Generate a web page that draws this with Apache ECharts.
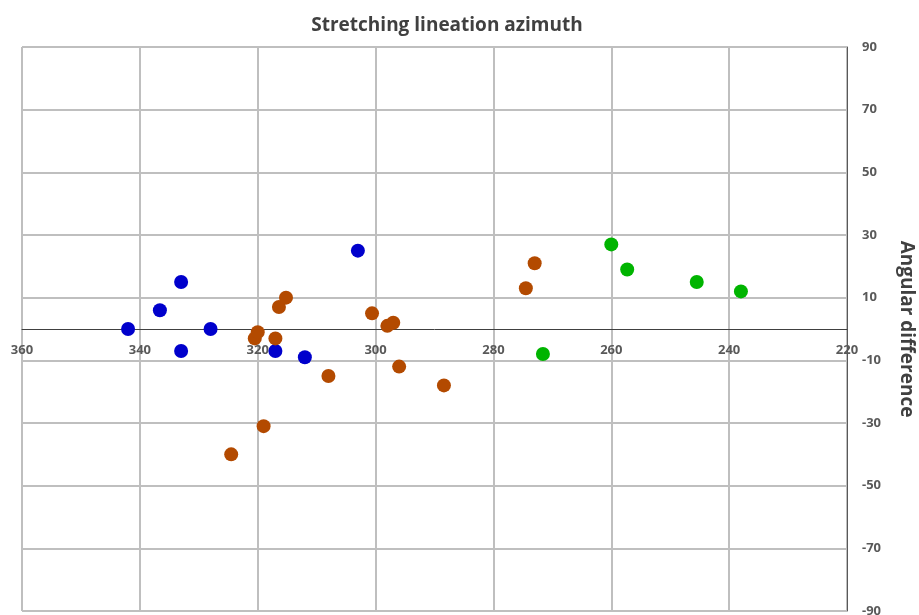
<!DOCTYPE html>
<html><head><meta charset="utf-8">
<script src="https://cdn.jsdelivr.net/npm/echarts@6/dist/echarts.min.js"></script>
<style>html,body{margin:0;padding:0;background:#fff}#c{width:919px;height:615px}</style>
</head><body><div id="c"></div>
<script>
const xTicks = [220, 240, 260, 280, 300, 320, 340, 360];
const yTicks = [-90, -70, -50, -30, -10, 10, 30, 50, 70, 90];
const blueX = [342, 336.6, 333, 333, 328, 317, 312, 303];
const blueY = [0, 6, 15, -7, 0, -7, -9, 25];
const orangeX = [324.5, 319, 320.5, 320, 317, 316.4, 315.2, 308, 300.6, 298, 297, 296, 288.4, 274.5, 273];
const orangeY = [-40, -31, -3, -1, -3, 7, 10, -15, 5, 1, 2, -12, -18, 13, 21];
const greenX = [271.6, 260, 257.3, 245.5, 238];
const greenY = [-8, 27, 19, 15, 12];

const pairs = (xs, ys) => xs.map((x, i) => [x, ys[i]]);
const font = '"Open Sans", "Noto Sans", sans-serif';
const gridTop = 47, gridBottom = 4, H = 615;
const plotH = H - gridTop - gridBottom;
const zeroOffset = -plotH * (0 - (-90)) / 180;
const chart = echarts.init(document.getElementById('c'));
chart.setOption({
  animation: false,
  title: { text: 'Stretching lineation azimuth', left: 442, textAlign: 'center', top: 11,
    textStyle: { fontFamily: font, fontSize: 19, fontWeight: 'bold', color: '#404040' } },
  grid: { left: 22, right: 72, top: gridTop, bottom: gridBottom, containLabel: false, outerBoundsMode: 'none' },
  xAxis: {
    type: 'value', min: 220, max: 360, interval: 20, inverse: true,
    position: 'bottom', offset: zeroOffset,
    axisLine: { show: true, onZero: false, lineStyle: { color: '#404040', width: 1 } },
    axisTick: { show: false },
    axisLabel: { fontFamily: font, fontSize: 13, fontWeight: 'bold', color: '#595959', margin: 15 },
    splitLine: { show: true, lineStyle: { color: '#bfbfbf', width: 2 } }
  },
  yAxis: {
    type: 'value', position: 'right', min: -90, max: 90, interval: 20,
    name: 'Angular difference', nameLocation: 'middle', nameRotate: -90, nameGap: 50,
    nameTextStyle: { fontFamily: font, fontSize: 19, fontWeight: 'bold', color: '#404040' },
    axisLine: { show: true, onZero: false, lineStyle: { color: '#595959', width: 1 } },
    axisTick: { show: false },
    axisLabel: { fontFamily: font, fontSize: 13, fontWeight: 'bold', color: '#595959', margin: 15 },
    splitLine: { show: true, lineStyle: { color: '#bfbfbf', width: 2 } }
  },
  series: [
    { type: 'scatter', data: pairs(blueX, blueY), symbolSize: 14, itemStyle: { color: '#0000cc', opacity: 1 } },
    { type: 'scatter', data: pairs(orangeX, orangeY), symbolSize: 14, itemStyle: { color: '#b34a00', opacity: 1 } },
    { type: 'scatter', data: pairs(greenX, greenY), symbolSize: 14, itemStyle: { color: '#00b400', opacity: 1 } }
  ]
});
</script></body></html>
